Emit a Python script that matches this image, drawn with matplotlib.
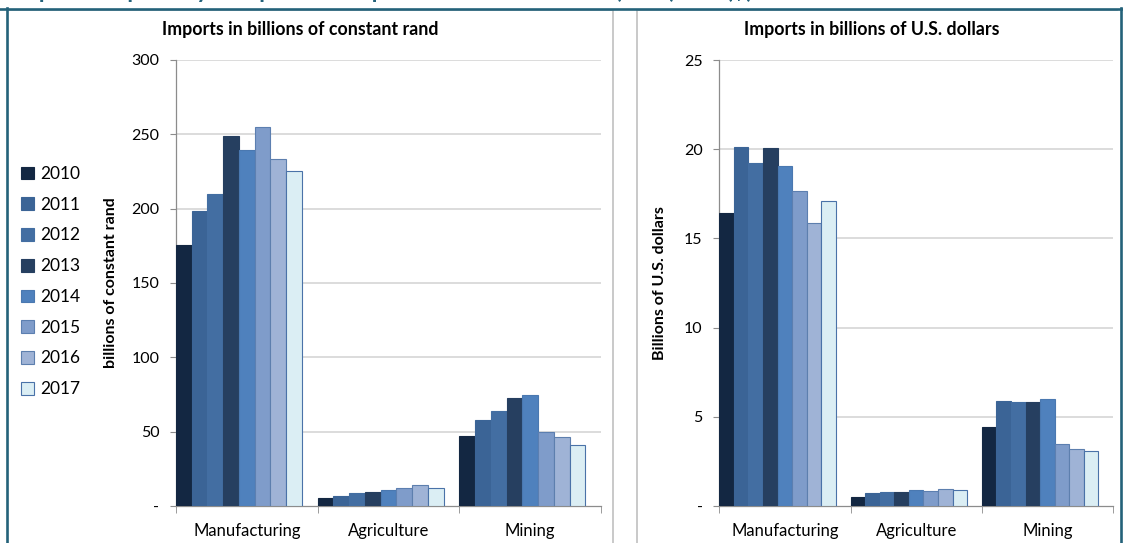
import numpy as np
import matplotlib
matplotlib.use("Agg")
import matplotlib.pyplot as plt
from matplotlib.lines import Line2D
from matplotlib.patches import Patch

plt.rcParams['font.family'] = ['Lato', 'DejaVu Sans']

W, H = 1123, 543

sectors = ["Manufacturing", "Agriculture", "Mining"]
years = ["2010", "2011", "2012", "2013", "2014", "2015", "2016", "2017"]

# imports by sector, one list per year (Manufacturing, Agriculture, Mining)
rand_2010 = [175.6, 5.2, 47.3]
rand_2011 = [198.4, 6.9, 57.8]
rand_2012 = [209.7, 8.5, 63.7]
rand_2013 = [248.9, 9.6, 72.6]
rand_2014 = [239.2, 11.0, 74.9]
rand_2015 = [255.2, 11.9, 49.5]
rand_2016 = [233.6, 13.9, 46.6]
rand_2017 = [225.1, 11.9, 41.0]

usd_2010 = [16.40, 0.49, 4.43]
usd_2011 = [20.10, 0.71, 5.87]
usd_2012 = [19.25, 0.78, 5.83]
usd_2013 = [20.07, 0.78, 5.85]
usd_2014 = [19.06, 0.88, 5.98]
usd_2015 = [17.64, 0.82, 3.46]
usd_2016 = [15.85, 0.93, 3.18]
usd_2017 = [17.10, 0.90, 3.10]

rand_vals = [rand_2010, rand_2011, rand_2012, rand_2013,
             rand_2014, rand_2015, rand_2016, rand_2017]
usd_vals = [usd_2010, usd_2011, usd_2012, usd_2013,
            usd_2014, usd_2015, usd_2016, usd_2017]

colors = ["#132742", "#3b6496", "#436ea2", "#263f60",
          "#4f81bd", "#7f9cca", "#9fb3d6", "#dbeef4"]
edges = ["#132742", "#3b6496", "#436ea2", "#263f60",
         "#4a78b0", "#5c7fb0", "#5d7fae", "#4a72a8"]

teal = "#24627a"
grid = "#d9d9d9"
axis_gray = "#8c8c8c"
SLOTS = 9  # eight years plus one empty slot per category


def fx(x):
    return x / W


def fy(y):
    return 1 - y / H


def draw_panel(ax, values, ymax, step, title_x, title, ylabel, label_x):
    n = len(sectors)
    x = np.arange(n)
    for j, (vals, c, e) in enumerate(zip(values, colors, edges)):
        ax.bar(x + j / SLOTS, vals, width=1 / SLOTS, align='edge',
               color=c, edgecolor=e, linewidth=0.8, zorder=3, label=years[j])
    ax.set_xlim(0, n)
    ax.set_ylim(0, ymax)
    yt = np.arange(0, ymax + step / 2, step)
    ax.set_yticks(yt)
    ax.set_yticklabels(["-"] + ["%g" % v for v in yt[1:]], fontsize=11.5)
    ax.set_xticks(x + 0.5)
    ax.set_xticklabels(sectors, fontsize=12)
    ax.set_xticks(np.arange(n + 1), minor=True)
    ax.tick_params(axis='x', which='major', length=0, pad=12)
    ax.tick_params(axis='x', which='minor', length=5, color=axis_gray, direction='out')
    ax.tick_params(axis='y', length=4, color=axis_gray, pad=8)
    for v in yt[1:]:
        ax.axhline(v, color=grid, lw=1.3, zorder=1)
    for s in ['top', 'right']:
        ax.spines[s].set_visible(False)
    for s in ['left', 'bottom']:
        ax.spines[s].set_color(axis_gray)
        ax.spines[s].set_linewidth(0.9)
    ax.set_ylabel(ylabel, fontsize=11.5, fontweight='bold')
    ax.yaxis.set_label_coords(label_x, 0.5)
    fig.text(fx(title_x), fy(30), title, fontsize=12.8, fontweight='bold',
             ha='center', va='center')


fig = plt.figure(figsize=(W / 100, H / 100), dpi=100)

ax1 = fig.add_axes([fx(176), fy(506), fx(601 - 176), (506 - 60) / H])
ax2 = fig.add_axes([fx(719.3), fy(506), fx(1113 - 719.3), (506 - 60) / H])

draw_panel(ax1, rand_vals, 300, 50, 300, "Imports in billions of constant rand",
           "billions of constant rand", -0.136)
draw_panel(ax2, usd_vals, 25, 5, 872, "Imports in billions of U.S. dollars",
           "Billions of U.S. dollars", -0.133)

# legend down the left margin
handles = [Patch(facecolor=c, edgecolor=e, linewidth=0.8) for c, e in zip(colors, edges)]
fig.legend(handles, years, loc='upper left', bbox_to_anchor=(fx(14), fy(159)),
           frameon=False, fontsize=12.5, handlelength=0.75, handleheight=0.75,
           handletextpad=0.35, labelspacing=0.85, borderaxespad=0)

# panel frames
fig.add_artist(Line2D([fx(8), fx(613), fx(613)], [fy(10), fy(10), fy(543)],
                      color="#c0c0c0", lw=1.2))
fig.add_artist(Line2D([fx(637), fx(637), fx(1117)], [fy(543), fy(10), fy(10)],
                      color="#c0c0c0", lw=1.2))

# outer border and heading, which runs off the top edge
fig.add_artist(Line2D([0, 1], [fy(8.5)] * 2, color=teal, lw=1.9))
fig.add_artist(Line2D([fx(6.5)] * 2, [fy(8), 0], color=teal, lw=1.9))
fig.add_artist(Line2D([fx(1120.5)] * 2, [fy(8), 0], color=teal, lw=1.9))
fig.text(fx(12), fy(-1.5), "Imports of primary and processed products from the U.S. (rand) and ($)",
         fontsize=17, fontweight='bold', color=teal, ha='left', va='baseline')

fig.savefig("out.png", dpi=100)
